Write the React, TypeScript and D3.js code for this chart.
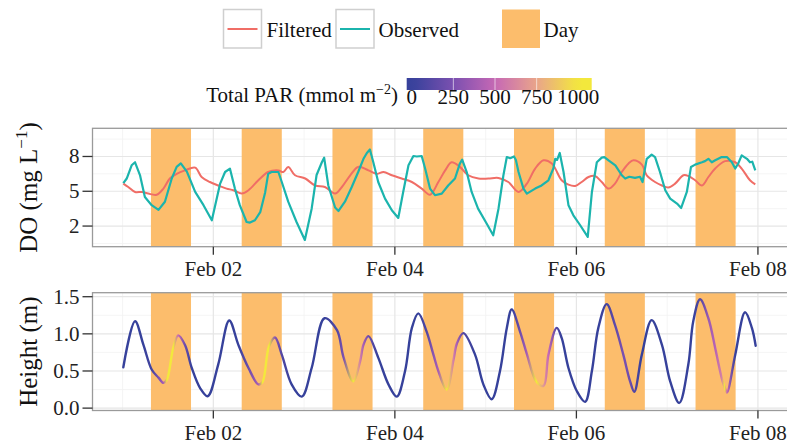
import React from 'react';
import * as d3 from 'd3';

// ---- data (hours since Feb 01 00:00) ----
const observedHours = [0.2,1.1,2.4,3.3,4.6,5.9,7.7,9.5,11.2,13.0,14.3,15.4,17.0,19.2,21.4,23.6,24.5,25.8,27.1,28.4,29.7,31.0,32.8,33.7,35.0,36.4,37.7,38.5,39.4,41.2,42.1,43.8,46.0,48.2,50.0,51.3,52.7,53.3,54.4,56.2,57.1,58.8,60.6,62.3,63.7,64.6,65.4,66.3,67.6,69.4,71.2,72.9,74.2,75.6,76.9,77.8,79.1,80.0,81.3,82.6,84.4,86.1,87.9,89.2,89.8,91.0,92.3,94.0,96.3,98.0,99.4,100.7,101.6,102.5,103.5,104.0,104.7,106.0,106.9,109.1,110.8,112.6,113.9,114.4,114.9,115.6,116.6,117.9,119.2,121.0,123.0,124.1,125.4,126.7,127.4,128.5,130.3,132.0,132.9,134.0,135.5,136.8,137.5,138.6,139.9,140.8,142.1,143.5,144.8,146.6,147.7,149.2,150.3,151.4,153.2,154.0,154.9,155.8,156.7,157.5,158.4,159.8,161.1,162.0,162.8,163.7,165.1,165.9,166.5,167.3];
const observedDO = [5.7,6.1,7.24,7.5,6.4,4.5,3.8,3.4,4.1,6.1,7.1,7.4,6.7,4.95,3.8,2.5,3.8,5.66,6.66,6.95,5.23,3.8,2.35,2.3,2.5,3.2,4.9,6.5,6.66,6.66,5.8,4.1,2.35,0.8,3.5,6.4,7.5,7.9,5.5,3.6,3.3,4.1,5.37,6.66,7.8,8.3,8.6,7.5,5.8,4.37,3.36,2.7,4.94,7.24,8.04,8.0,8.04,6.96,5.23,4.66,4.8,5.5,6.1,7.4,7.73,6.66,4.94,3.5,2.2,1.2,3.5,6.38,7.95,7.85,8.0,7.7,6.66,5.23,4.8,5.23,5.5,5.95,6.96,7.8,7.7,8.3,6.66,3.8,2.93,2.07,1.06,4.94,7.5,7.9,7.95,7.67,7.24,6.38,6.1,6.25,6.15,6.25,5.8,7.8,8.16,7.95,6.66,5.09,4.37,3.94,3.56,4.94,7.1,7.3,7.5,7.6,7.8,7.5,7.67,7.8,7.95,7.95,7.5,6.96,7.4,8.1,7.8,7.5,7.55,6.8];

const filteredHours = [0.2,1.5,3.3,5.1,6.8,9.0,10.8,12.5,14.3,16.5,19.2,20.9,23.1,25.3,27.5,29.3,31.5,33.3,35.9,38.5,41.2,42.5,43.8,45.6,48.3,50.9,53.5,56.2,58.0,60.2,62.3,65.0,67.2,69.0,71.2,73.8,76.5,79.1,81.3,83.5,85.3,87.0,89.2,91.4,94.1,96.7,99.4,102.0,104.7,106.9,109.1,111.3,113.5,114.4,116.1,117.9,119.7,121.4,123.2,124.9,126.7,128.5,130.2,132.0,133.8,135.1,137.3,138.6,140.8,142.6,144.3,146.1,148.3,149.6,151.4,153.2,154.9,156.7,159.3,162.0,163.7,165.9,167.3];
const filteredDO = [5.66,5.37,4.94,4.94,4.8,4.7,5.23,6.1,6.5,6.8,7.04,6.23,5.8,5.5,5.23,5.09,4.8,5.09,5.95,6.66,6.8,6.66,7.1,6.38,6.1,5.5,5.37,4.8,5.37,6.38,7.1,6.8,6.5,6.66,6.38,6.1,5.8,5.23,4.7,5.8,6.8,7.5,7.1,6.38,6.1,6.1,6.15,5.8,4.94,5.66,6.96,7.67,7.4,6.96,5.95,5.57,5.46,5.8,6.23,6.32,5.8,5.23,5.66,6.66,7.4,7.67,7.3,6.38,5.8,5.5,5.32,5.66,6.38,6.32,5.95,5.5,6.23,6.96,7.6,7.5,6.96,5.95,5.6];

const heightHours = [0.2,3.3,5.5,7.7,9.5,10.8,11.7,13.4,14.7,16.5,18.3,20.5,22.5,25.3,28.2,30.6,33.3,35.9,37.0,38.7,40.3,42.1,44.7,47.4,50.0,53.4,56.7,58.4,61.0,62.8,63.7,65.0,67.6,70.3,72.5,74.7,76.5,78.2,80.4,82.2,83.5,85.7,87.5,88.4,90.1,93.2,95.4,97.6,99.8,101.6,102.9,105.1,106.9,109.4,111.3,112.6,114.8,116.1,117.9,120.1,122.3,124.1,125.8,128.0,130.2,132.4,134.2,135.3,137.3,139.9,142.6,144.8,147.2,149.6,150.9,152.7,154.9,156.7,158.4,159.2,159.8,162.0,164.6,166.4,167.4];
const heightM = [0.55,1.17,0.855,0.52,0.41,0.34,0.38,0.81,0.98,0.85,0.54,0.27,0.16,0.59,1.18,0.855,0.54,0.32,0.35,0.83,0.95,0.72,0.32,0.155,0.54,1.21,1.05,0.69,0.36,0.63,0.855,0.97,0.68,0.32,0.155,0.5,1.08,1.275,1.03,0.72,0.5,0.25,0.65,0.87,1.01,0.72,0.32,0.12,0.5,1.08,1.33,1.03,0.73,0.36,0.3,0.72,1.08,0.945,0.54,0.23,0.085,0.5,1.08,1.40,1.12,0.72,0.36,0.22,0.72,1.185,0.855,0.36,0.07,0.59,1.17,1.465,1.21,0.81,0.41,0.28,0.21,0.72,1.29,1.08,0.84];
const heightPAR = [0,0,0,50,250,400,1000,1000,500,200,0,0,0,0,0,0,200,400,1000,1000,300,100,0,0,0,0,100,250,1000,600,400,200,0,0,0,0,0,0,100,300,400,1000,600,400,100,0,0,0,0,0,0,200,400,1000,700,500,100,0,0,0,0,0,0,50,150,250,200,100,0,0,0,0,0,0,0,100,350,450,600,1000,500,0,0,0,0];

const dayStartHours = [7.5,31.5,55.5,79.5,103.5,127.5,151.5];
const dayEndHours = [18.1,42.1,66.1,90.1,114.1,138.1,162.1];

const xTickHours = [24,72,120,168];
const xMinorHours = [0,48,96,144];
const doTicks = [2,5,8];
const doMinor = [0.5,3.5,6.5,9.5];
const heightTicks = [0,0.5,1.0,1.5];
const heightMinor = [0.25,0.75,1.25];
const parTicks = [0,250,500,750,1000];
const parColors = ['#36419b','#7b50b0','#c668b5','#e9a58a','#f3e83c'];

const BASE = Date.UTC(2016, 1, 1);
const hrs = (h: number) => new Date(BASE + h * 3600e3);

const FONT = '"Liberation Serif", "Times New Roman", serif';

export default function App() {
  const W = 787, H = 444;
  const x = d3.scaleUtc().domain([hrs(-7.95), hrs(175.95)]).range([92.5, 788]);
  const p1 = { top: 128.3, bottom: 246.7 };
  const p2 = { top: 292.7, bottom: 410.5 };
  const left = 92.5, right = 790;
  const yDO = d3.scaleLinear().domain([0.22, 10.43]).range([p1.bottom, p1.top]);
  const yH = d3.scaleLinear().domain([-0.032, 1.554]).range([p2.bottom, p2.top]);
  const parColor = d3.scaleLinear<string>().domain(parTicks).range(parColors).interpolate(d3.interpolateRgb).clamp(true);
  const parX = d3.scaleLinear().domain([0, 1000]).range([411.7, 578.3]);
  const fmt = d3.utcFormat('%b %d');

  const obsLine = d3.line<number>().x((_, i) => x(hrs(observedHours[i]))).y(d => yDO(d));
  const filLine = d3.line<number>().x((_, i) => x(hrs(filteredHours[i]))).y(d => yDO(d)).curve(d3.curveCatmullRom.alpha(0.5));
  const hLine = d3.line<number>().x((_, i) => x(hrs(heightHours[i]))).y(d => yH(d)).curve(d3.curveCatmullRom.alpha(0.5));

  const hx0 = x(hrs(heightHours[0]));
  const hx1 = x(hrs(heightHours[heightHours.length - 1]));

  const barX0 = 406.7, barX1 = 591.7;
  const barStops = d3.range(0, 21).map(i => {
    const px = barX0 + (barX1 - barX0) * i / 20;
    return { off: i / 20, c: parColor(parX.invert(px)) };
  });

  const orange = '#fcbd6c';
  const grid = '#e6e6e6';
  const gridMinor = '#f3f3f3';

  const panel = (p: { top: number; bottom: number }, y: d3.ScaleLinear<number, number>, major: number[], minor: number[], key: string) => (
    <g key={key}>
      <rect x={left} y={p.top} width={right - left} height={p.bottom - p.top} fill="#fff" />
      {minor.map(v => <line key={'hm' + v} x1={left} x2={right} y1={y(v)} y2={y(v)} stroke={gridMinor} strokeWidth={0.8} />)}
      {xMinorHours.map(h => <line key={'vm' + h} x1={x(hrs(h))} x2={x(hrs(h))} y1={p.top} y2={p.bottom} stroke={gridMinor} strokeWidth={0.8} />)}
      {major.map(v => <line key={'hM' + v} x1={left} x2={right} y1={y(v)} y2={y(v)} stroke={grid} strokeWidth={1.2} />)}
      {xTickHours.map(h => <line key={'vM' + h} x1={x(hrs(h))} x2={x(hrs(h))} y1={p.top} y2={p.bottom} stroke={grid} strokeWidth={1.2} />)}
      {dayStartHours.map((s, i) => (
        <rect key={'d' + i} x={x(hrs(s))} y={p.top} width={x(hrs(dayEndHours[i])) - x(hrs(s))} height={p.bottom - p.top} fill={orange} />
      ))}
    </g>
  );

  const axes = (p: { top: number; bottom: number }, y: d3.ScaleLinear<number, number>, major: number[], f: (v: number) => string, key: string) => (
    <g key={key} fontFamily={FONT} fontSize={21} fill="#222">
      <rect x={left} y={p.top} width={right - left} height={p.bottom - p.top} fill="none" stroke="#9a9a9a" strokeWidth={1.3} />
      {major.map(v => (
        <g key={v}>
          <line x1={left - 10} x2={left} y1={y(v)} y2={y(v)} stroke="#333" strokeWidth={1.3} />
          <text x={left - 13} y={y(v)} dy="0.33em" textAnchor="end">{f(v)}</text>
        </g>
      ))}
      {xTickHours.map(h => (
        <g key={h}>
          <line x1={x(hrs(h))} x2={x(hrs(h))} y1={p.bottom} y2={p.bottom + 8} stroke="#333" strokeWidth={1.3} />
          <text x={x(hrs(h))} y={p.bottom + 29.5} textAnchor="middle">{fmt(hrs(h))}</text>
        </g>
      ))}
    </g>
  );

  return (
    <svg width={W} height={H} style={{ position: 'absolute', left: 0, top: 0, background: '#fff' }}>
      <defs>
        <linearGradient id="parLine" gradientUnits="userSpaceOnUse" x1={hx0} x2={hx1} y1={0} y2={0}>
          {heightHours.map((h, i) => (
            <stop key={i} offset={(x(hrs(h)) - hx0) / (hx1 - hx0)} stopColor={parColor(heightPAR[i])} />
          ))}
        </linearGradient>
        <linearGradient id="parBar" x1="0" x2="1" y1="0" y2="0">
          {barStops.map((s, i) => <stop key={i} offset={s.off} stopColor={s.c} />)}
        </linearGradient>
      </defs>

      {/* legend */}
      <g fontFamily={FONT} fontSize={21} fill="#111">
        <rect x={223.5} y={9.5} width={38} height={38.5} fill="#fff" stroke="#cfcfcf" strokeWidth={1.5} />
        <line x1={227.5} x2={257.5} y1={29} y2={29} stroke="#f06d66" strokeWidth={2} />
        <text x={266.5} y={36.5}>Filtered</text>
        <rect x={336} y={9.5} width={38} height={38.5} fill="#fff" stroke="#cfcfcf" strokeWidth={1.5} />
        <line x1={340} x2={370} y1={29} y2={29} stroke="#1bb4ad" strokeWidth={2} />
        <text x={378.5} y={36.5}>Observed</text>
        <rect x={502} y={9.5} width={38} height={38.5} fill={orange} />
        <text x={543.5} y={36.5}>Day</text>

        <text x={398} y={101.5} textAnchor="end">
          Total PAR (mmol m<tspan dy={-8} fontSize={14}>−2</tspan><tspan dy={8}>)</tspan>
        </text>
        <rect x={barX0} y={78} width={barX1 - barX0} height={12} fill="url(#parBar)" />
        {parTicks.map(t => (
          <g key={t}>
            {t > 0 && t < 1000 && <line x1={parX(t)} x2={parX(t)} y1={78} y2={90} stroke="#fff" strokeOpacity={0.6} strokeWidth={1} />}
            <text x={parX(t)} y={104} textAnchor="middle">{t}</text>
          </g>
        ))}
      </g>

      {panel(p1, yDO, doTicks, doMinor, 'p1')}
      {panel(p2, yH, heightTicks, heightMinor, 'p2')}

      <path d={filLine(filteredDO) || ''} fill="none" stroke="#f06d66" strokeWidth={2} strokeLinejoin="round" />
      <path d={obsLine(observedDO) || ''} fill="none" stroke="#1bb4ad" strokeWidth={2.2} strokeLinejoin="round" />
      <path d={hLine(heightM) || ''} fill="none" stroke="url(#parLine)" strokeWidth={2.4} strokeLinejoin="round" strokeLinecap="round" />

      {axes(p1, yDO, doTicks, d => String(d), 'a1')}
      {axes(p2, yH, heightTicks, d3.format('.1f'), 'a2')}

      <g fontFamily={FONT} fontSize={25} fill="#111">
        <text transform={`translate(36.5, ${(p1.top + p1.bottom) / 2}) rotate(-90)`} textAnchor="middle">
          DO (mg L<tspan dy={-10} fontSize={17}>−1</tspan><tspan dy={10}>)</tspan>
        </text>
        <text transform={`translate(36.5, ${(p2.top + p2.bottom) / 2}) rotate(-90)`} textAnchor="middle">
          Height (m)
        </text>
      </g>
    </svg>
  );
}
